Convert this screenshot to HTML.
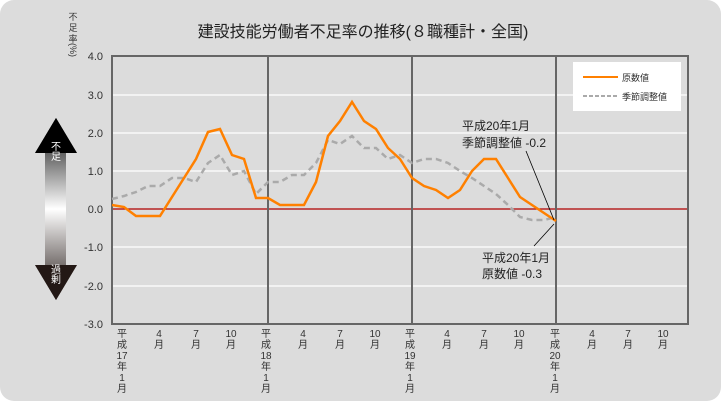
<!DOCTYPE html>
<html><head><meta charset="utf-8"><style>
body{margin:0;background:#fff;}
svg{display:block;font-family:"Liberation Sans","Noto Sans CJK JP",sans-serif;}
</style></head><body>
<svg width="721" height="401" viewBox="0 0 721 401">
<defs>
<linearGradient id="g" x1="0" y1="0" x2="0" y2="1">
<stop offset="0" stop-color="#000"/><stop offset="0.5" stop-color="#fff"/><stop offset="1" stop-color="#231815"/>
</linearGradient>
</defs>
<rect x="0" y="0" width="721" height="401" rx="14" fill="#dcdcdc"/>
<text x="363" y="37" font-size="16" text-anchor="middle" fill="#222">建設技能労働者不足率の推移(８職種計・全国)</text>
<g font-size="9" fill="#333" text-anchor="middle">
<text x="73" y="20">不</text><text x="73" y="31">足</text><text x="73" y="42">率</text>
<text x="73" y="53" transform="rotate(90 73 50)">(%)</text>
</g>
<!-- gridlines -->
<g stroke="#fff" stroke-width="1.3">
<line x1="112" y1="95" x2="688" y2="95"/><line x1="112" y1="133" x2="688" y2="133"/>
<line x1="112" y1="171" x2="688" y2="171"/><line x1="112" y1="247" x2="688" y2="247"/>
<line x1="112" y1="286" x2="688" y2="286"/>
</g>
<line x1="112" y1="209" x2="688" y2="209" stroke="#b00000" stroke-width="1.2"/>
<g stroke="#666" stroke-width="2" fill="none">
<rect x="112" y="56" width="576" height="268"/>
<line x1="268" y1="56" x2="268" y2="324"/><line x1="412" y1="56" x2="412" y2="324"/><line x1="556" y1="56" x2="556" y2="324"/>
</g>
<g font-size="11" fill="#333" text-anchor="end">
<text x="103" y="60">4.0</text><text x="103" y="99">3.0</text><text x="103" y="137">2.0</text>
<text x="103" y="175">1.0</text><text x="103" y="213">0.0</text><text x="103" y="251">-1.0</text>
<text x="103" y="290">-2.0</text><text x="103" y="328">-3.0</text>
</g>
<!-- arrow -->
<polygon points="56,118 77,153 66,153 66,265 77,265 56,300 35,265 45,265 45,153 35,153" fill="url(#g)"/>
<polygon points="56,118 77,153 35,153" fill="#000"/>
<polygon points="35,265 77,265 56,300" fill="#231815"/>
<g font-size="10" fill="#fff" text-anchor="middle">
<text x="56" y="150">不</text><text x="56" y="160">足</text>
<text x="56" y="273">過</text><text x="56" y="283">剰</text>
</g>
<!-- series -->
<polyline fill="none" stroke="#aaa" stroke-width="2.5" stroke-dasharray="6,4" points="112,199 124,196 136,192 148,186 160,186 172,178 184,178 196,182 208,163 220,155 232,175 244,171 256,194 268,182 280,182 292,175 304,175 316,163 328,140 340,144 352,136 364,148 376,148 388,159 400,155 412,163 424,159 436,159 448,163 460,171 472,178 484,186 496,194 508,205 520,217 532,220 544,220 556,217"/>
<polyline fill="none" stroke="#ff8000" stroke-width="2.5" points="112,205 124,207 136,216 148,216 160,216 172,197 184,178 196,159 208,132 220,129 232,155 244,159 256,198 268,198 280,205 292,205 304,205 316,182 328,136 340,121 352,102 364,121 376,129 388,148 400,159 412,178 424,186 436,190 448,198 460,190 472,171 484,159 496,159 508,178 520,197 532,205 544,213 556,221"/>
<!-- legend -->
<rect x="573" y="62" width="108" height="49" fill="#fff"/>
<line x1="583" y1="77" x2="618" y2="77" stroke="#ff8000" stroke-width="2"/>
<line x1="583" y1="96" x2="618" y2="96" stroke="#aaa" stroke-width="2" stroke-dasharray="4,2"/>
<text x="622" y="81" font-size="9" fill="#333">原数値</text>
<text x="622" y="100" font-size="9" fill="#333">季節調整値</text>
<!-- annotations -->
<g font-size="12" fill="#222">
<text x="462" y="130">平成20年1月</text><text x="462" y="147">季節調整値 -0.2</text>
<text x="482" y="262">平成20年1月</text><text x="482" y="278">原数値 -0.3</text>
</g>
<line x1="526" y1="151" x2="554" y2="220" stroke="#000" stroke-width="0.8"/>
<line x1="534" y1="246" x2="554" y2="224" stroke="#000" stroke-width="0.8"/>
<!-- x labels -->
<g font-size="10" fill="#333" text-anchor="middle">
<g id="y1"><text x="122" y="337">平</text><text x="122" y="348">成</text><text x="122" y="359">17</text><text x="122" y="370">年</text><text x="122" y="381">1</text><text x="122" y="392">月</text></g>
<text x="266" y="337">平</text><text x="266" y="348">成</text><text x="266" y="359">18</text><text x="266" y="370">年</text><text x="266" y="381">1</text><text x="266" y="392">月</text>
<text x="410" y="337">平</text><text x="410" y="348">成</text><text x="410" y="359">19</text><text x="410" y="370">年</text><text x="410" y="381">1</text><text x="410" y="392">月</text>
<text x="555" y="337">平</text><text x="555" y="348">成</text><text x="555" y="359">20</text><text x="555" y="370">年</text><text x="555" y="381">1</text><text x="555" y="392">月</text>
<text x="159" y="337">4</text><text x="159" y="348">月</text>
<text x="196" y="337">7</text><text x="196" y="348">月</text>
<text x="231" y="337">10</text><text x="231" y="348">月</text>
<text x="303" y="337">4</text><text x="303" y="348">月</text>
<text x="340" y="337">7</text><text x="340" y="348">月</text>
<text x="375" y="337">10</text><text x="375" y="348">月</text>
<text x="447" y="337">4</text><text x="447" y="348">月</text>
<text x="484" y="337">7</text><text x="484" y="348">月</text>
<text x="519" y="337">10</text><text x="519" y="348">月</text>
<text x="592" y="337">4</text><text x="592" y="348">月</text>
<text x="628" y="337">7</text><text x="628" y="348">月</text>
<text x="663" y="337">10</text><text x="663" y="348">月</text>
</g>
</svg>
</body></html>
